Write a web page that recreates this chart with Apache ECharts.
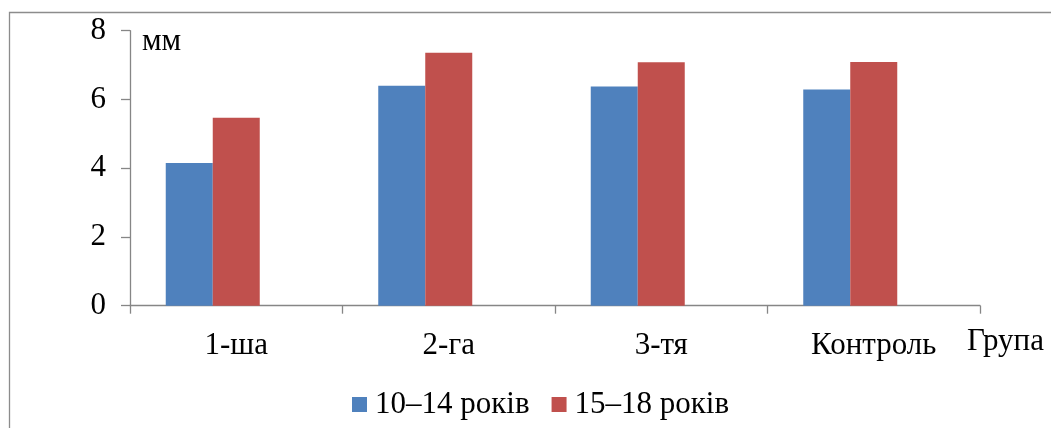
<!DOCTYPE html>
<html>
<head>
<meta charset="utf-8">
<script src="https://cdn.jsdelivr.net/npm/echarts@6/dist/echarts.min.js"></script>
<style>
html,body{margin:0;padding:0;background:#fff;}
#chart{width:1051px;height:428px;}
</style>
</head>
<body>
<div id="chart"></div>
<script>
var categories = ['1-ша', '2-га', '3-тя', 'Контроль'];
var seriesNames = ['10–14 років', '15–18 років'];
var values1014 = [4.15, 6.40, 6.38, 6.29];
var values1518 = [5.47, 7.36, 7.08, 7.09];
var yTicks = [0, 2, 4, 6, 8];
var yUnit = 'мм';
var xName = 'Група';

var FONT = '"Liberation Serif", "Times New Roman", serif';
var FS = 31;
var AXIS = '#868686';
var chart = echarts.init(document.getElementById('chart'));
chart.setOption({
  animation: false,
  backgroundColor: '#fff',
  grid: { left: 130, right: 71, top: 30.7, bottom: 122.3, containLabel: false },
  legend: {
    data: seriesNames,
    left: 347, top: 384,
    itemWidth: 15, itemHeight: 15, itemGap: 22,
    icon: 'rect',
    textStyle: { fontFamily: FONT, fontSize: FS, color: '#000', padding: [0, 0, 0, 3] }
  },
  xAxis: {
    type: 'category',
    data: categories,
    axisLine: { lineStyle: { color: AXIS, width: 1.3 } },
    axisTick: { show: true, interval: 0, length: 8, lineStyle: { color: AXIS, width: 1.3 } },
    axisLabel: { fontFamily: FONT, fontSize: FS, color: '#000', margin: 25 },
    splitLine: { show: false }
  },
  yAxis: {
    type: 'value',
    min: yTicks[0], max: yTicks[yTicks.length - 1], interval: 2,
    axisLine: { show: true, lineStyle: { color: AXIS, width: 1.3 } },
    axisTick: { show: true, length: 9, lineStyle: { color: AXIS, width: 1.3 } },
    axisLabel: { fontFamily: FONT, fontSize: FS, color: '#000', margin: 24 },
    splitLine: { show: false }
  },
  graphic: [
    { type: 'rect', shape: { x: 9.5, y: 12.5, width: 1200, height: 600 },
      style: { fill: 'none', stroke: '#8c8c8c', lineWidth: 1.3 }, z: -10, silent: true },
    { type: 'text', left: 142, top: 26, style: { text: yUnit, font: FS + 'px ' + FONT, fill: '#000' } },
    { type: 'text', left: 967, top: 326, style: { text: xName, font: FS + 'px ' + FONT, fill: '#000' } }
  ],
  series: [
    { name: seriesNames[0], type: 'bar', data: values1014, barWidth: 47, barGap: '0%',
      itemStyle: { color: '#4F81BD' } },
    { name: seriesNames[1], type: 'bar', data: values1518, barWidth: 47, barGap: '0%',
      itemStyle: { color: '#C0504D' } },
    { name: '', type: 'bar', data: categories.map(function () { return '-'; }), barWidth: 47, barGap: '0%' }
  ]
});
</script>
</body>
</html>
